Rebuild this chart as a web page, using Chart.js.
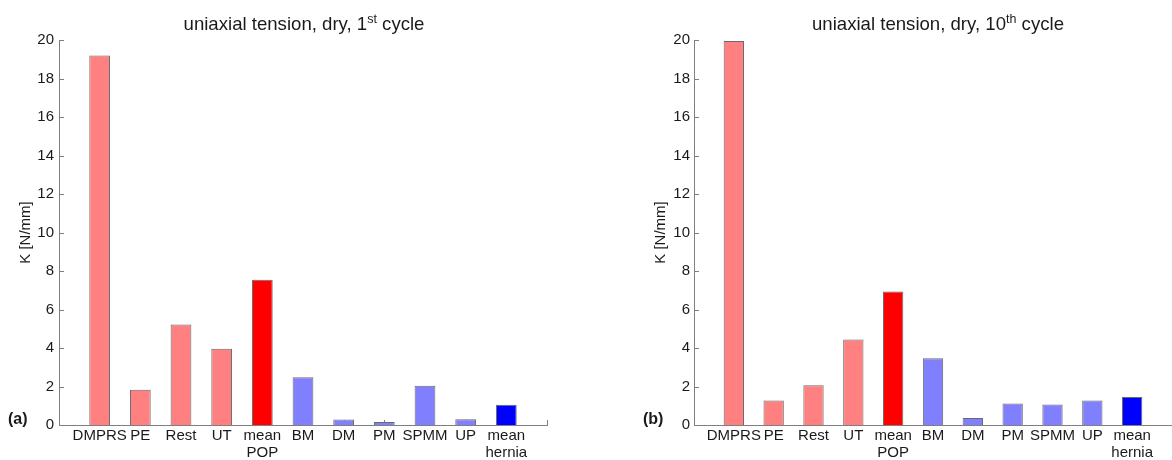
<!DOCTYPE html>
<html>
<head>
<meta charset="utf-8">
<script src="https://cdn.jsdelivr.net/npm/chart.js@4/dist/chart.umd.min.js"></script>
<style>
  html, body { margin: 0; padding: 0; background: #fff; }
  body { width: 1172px; height: 460px; position: relative; overflow: hidden;
         font-family: "Liberation Sans", Arial, Helvetica, sans-serif; color: #1a1a1a; }
  .wrap { position: absolute; top: 0; height: 460px; }
  .title { position: absolute; width: 400px; text-align: center; font-size: 18.6px; line-height: 20px; white-space: nowrap; }
  .title sup { font-size: 12.5px; vertical-align: baseline; position: relative; top: -7px; line-height: 0; }
  .panel { position: absolute; font-size: 16px; font-weight: bold; line-height: 16px; }
</style>
</head>
<body>
<div class="wrap" style="left:0;width:590px;"><canvas id="c1"></canvas></div>
<div class="wrap" style="left:600px;width:572px;"><canvas id="c2"></canvas></div>
<div class="title" style="left:104px;top:14px;">uniaxial tension, dry, 1<sup>st</sup> cycle</div>
<div class="title" style="left:738px;top:14px;">uniaxial tension, dry, 10<sup>th</sup> cycle</div>
<div class="panel" style="left:8px;top:411px;">(a)</div>
<div class="panel" style="left:643px;top:411px;">(b)</div>
<script>
// ---- data ----
const categories = ['DMPRS', 'PE', 'Rest', 'UT', ['mean', 'POP'], 'BM', 'DM', 'PM', 'SPMM', 'UP', ['mean', 'hernia']];
const cycle1  = [19.2, 1.83, 5.22, 3.96, 7.55, 2.48, 0.29, 0.15, 2.04, 0.30, 1.05];
const cycle10 = [19.95, 1.27, 2.07, 4.44, 6.94, 3.47, 0.37, 1.12, 1.06, 1.27, 1.46];
const barColors = ['#ff8080', '#ff8080', '#ff8080', '#ff8080', '#ff0000',
                   '#8080ff', '#8080ff', '#8080ff', '#8080ff', '#8080ff', '#0000ff'];
const yTicks = [0, 2, 4, 6, 8, 10, 12, 14, 16, 18, 20];
const yTitle = 'K [N/mm]';

const FONT = '"Liberation Sans", Arial, Helvetica, sans-serif';
const TXT = '#1a1a1a';
const AXIS = '#7f7f7f';

// inward tick marks (MATLAB style)
const inwardTicks = {
  id: 'inwardTicks',
  beforeDatasetsDraw(chart) {
    const {ctx, chartArea, scales: {x, y}} = chart;
    ctx.save();
    ctx.strokeStyle = AXIS;
    ctx.lineWidth = 1;
    ctx.beginPath();
    yTicks.forEach(v => {
      const py = Math.round(y.getPixelForValue(v)) + 0.5;
      ctx.moveTo(chartArea.left, py);
      ctx.lineTo(chartArea.left + 5, py);
    });
    for (let i = 1; i <= categories.length + 1; i++) {
      const px = Math.round(x.getPixelForValue(i)) + 0.5;
      ctx.moveTo(px, chartArea.bottom);
      ctx.lineTo(px, chartArea.bottom - 5);
    }
    ctx.stroke();
    ctx.restore();
  }
};

function makeChart(id, values, opts) {
  const data = values.map((v, i) => ({x: i + 1, y: v}));
  return new Chart(document.getElementById(id), {
    type: 'bar',
    data: {
      datasets: [{
        data: data,
        backgroundColor: barColors,
        borderColor: '#6a6a6a',
        borderWidth: 1,
        barPercentage: 0.51,
        categoryPercentage: 1.0
      }]
    },
    plugins: [inwardTicks],
    options: {
      responsive: true,
      maintainAspectRatio: false,
      animation: false,
      layout: { padding: { top: 40, right: opts.padRight, left: 0, bottom: 0 } },
      plugins: { legend: { display: false }, tooltip: { enabled: false }, title: { display: false } },
      scales: {
        x: {
          type: 'linear',
          min: 0, max: 12,
          offset: false,
          grid: { display: false, drawTicks: false, offset: false },
          border: { display: true, color: AXIS, width: 1 },
          afterFit: s => { s.height = 35; },
          afterBuildTicks: s => { s.ticks = categories.map((c, i) => ({value: i + 1})); },
          ticks: {
            autoSkip: false, maxRotation: 0, minRotation: 0,
            padding: 3,
            color: TXT,
            font: { family: FONT, size: 15, lineHeight: 1.107 },
            callback: v => categories[v - 1]
          }
        },
        y: {
          min: 0, max: 20,
          afterBuildTicks: s => { s.ticks = yTicks.map(v => ({value: v})); },
          afterFit: s => { s.width = opts.yWidth; },
          grid: { display: false, drawTicks: false },
          border: { display: true, color: AXIS, width: 1 },
          ticks: { padding: opts.tickPad, color: TXT, font: { family: FONT, size: 15 } },
          title: {
            display: true, text: yTitle, color: TXT,
            font: { family: FONT, size: 15 },
            padding: { top: opts.titlePad, bottom: 0 }
          }
        }
      }
    }
  });
}

makeChart('c1', cycle1, { padRight: 43, yWidth: 59, tickPad: 5, titlePad: 16.5 });
makeChart('c2', cycle10, { padRight: 0, yWidth: 94, tickPad: 4, titlePad: 51.5 });
</script>
</body>
</html>
